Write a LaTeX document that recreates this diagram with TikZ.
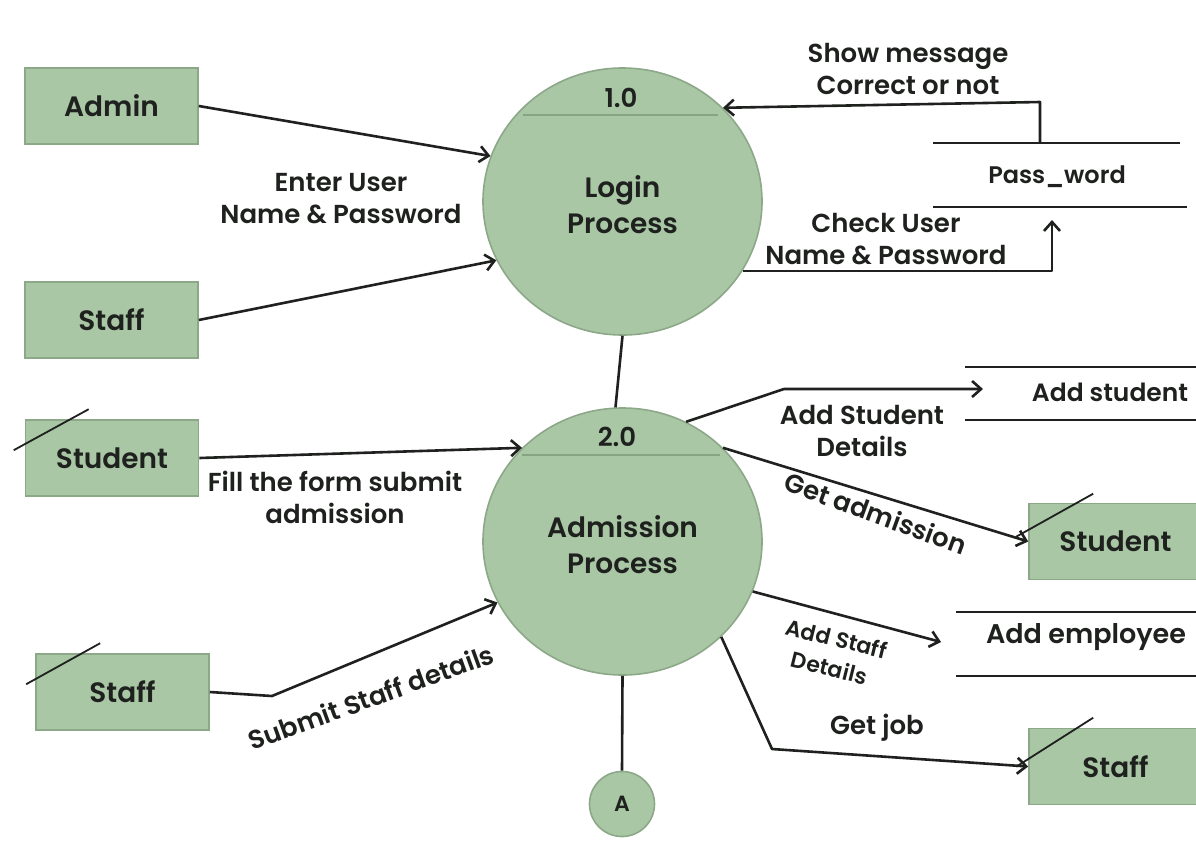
\documentclass[tikz,border=0pt]{standalone}
\usepackage{fontspec}
\setmainfont{Poppins}[BoldFont={* SemiBold}]
\usetikzlibrary{arrows.meta,shapes.geometric}
\definecolor{sage}{HTML}{A9C7A5}
\definecolor{sageline}{HTML}{8CA889}
\definecolor{chordc}{HTML}{86A383}
\definecolor{ink}{HTML}{1E211E}
\begin{document}
\begin{tikzpicture}[x=1pt,y=-1pt,
  every node/.style={text=ink},
  entity/.style={draw=sageline, fill=sage, line width=1.6pt, minimum width=173pt,
    minimum height=76pt, inner sep=0pt, font=\bfseries\fontsize{28}{30}\selectfont},
  proc/.style={ellipse, draw=sageline, fill=sage, line width=1.6pt, minimum width=279pt,
    minimum height=267pt, inner sep=0pt, align=center,
    font=\bfseries\fontsize{28}{36}\selectfont},
  conn/.style={circle, draw=sageline, fill=sage, line width=1.6pt, minimum size=65pt,
    inner sep=0pt, font=\bfseries\fontsize{22}{24}\selectfont},
  num/.style={font=\bfseries\fontsize{26}{28}\selectfont},
  lbl/.style={align=center, inner sep=0pt, font=\bfseries\fontsize{26}{32}\selectfont},
  slbl/.style={align=center, inner sep=0pt, font=\bfseries\fontsize{22}{30}\selectfont},
  storetxt/.style={inner sep=0pt, font=\bfseries\fontsize{27}{28}\selectfont},
  storeline/.style={draw=ink, line width=2.6pt},
  chord/.style={draw=chordc, line width=2.6pt},
  flow/.style={draw=ink, line width=2.6pt, line join=round,
    -{Straight Barb[length=9pt,width=16pt,line width=2.6pt]}},
  plain/.style={draw=ink, line width=2.6pt},
  dupl/.style={draw=ink, line width=1.8pt}
]
\useasboundingbox[fill=white] (0,0) rectangle (1196,844);

% processes
\node[proc] (login) at (622.5,201.5) {};
\node[proc] (adm) at (622.5,541.5) {};
\draw[chord] (523,115) -- (718,115);
\draw[chord] (522,455) -- (720,455);
\node[num] (n1) at (621,98) {1.0};
\node[num] (n2) at (617,437) {2.0};
\node[proc, draw=none, fill=none, minimum size=0pt] (logint) at (622.5,205) {Login\\Process};
\node[proc, draw=none, fill=none, minimum size=0pt] (admt) at (622.5,544.5) {Admission\\Process};
\node[conn] (A) at (622,804) {A};

% entities
\node[entity] (admin) at (111.5,106) {Admin};
\node[entity] (staffL1) at (111.5,320) {Staff};
\node[entity] (stuL) at (112,458) {Student};
\node[entity] (staffL2) at (122.5,692) {Staff};
\node[entity] (stuR) at (1115.5,541.5) {Student};
\node[entity] (staffR) at (1115.5,766.5) {Staff};

% duplicate marks
\draw[dupl] (stuL.north west) ++(-11,31) -- ++(75,-41);
\draw[dupl] (staffL2.north west) ++(-9,31) -- ++(74,-41);
\draw[dupl] (stuR.north west) ++(-12,34) -- ++(77,-43);
\draw[dupl] (staffR.north west) ++(-12,39) -- ++(77,-49);

% data stores
\draw[storeline] (933,143) -- (1180,143);
\draw[storeline] (933,207) -- (1187,207);
\node[storetxt, font=\bfseries\fontsize{24}{28}\selectfont] (pw) at (1057,177) {Pass\_word};
\draw[storeline] (965,367) -- (1210,367);
\draw[storeline] (965,420) -- (1210,420);
\node[storetxt, font=\bfseries\fontsize{25}{28}\selectfont] (as) at (1110,392) {Add student};
\draw[storeline] (956,612) -- (1210,612);
\draw[storeline] (956,676) -- (1210,676);
\node[storetxt] (ae) at (1086,637) {Add employee};

\coordinate (pwTop) at (1040,143);
\coordinate (pwIn) at (1052,220);
\coordinate (asIn) at (983,389);
\coordinate (aeIn) at (941,642);

% flows
\draw[flow] (admin.east) -- (login.161);
\draw[flow] (staffL1.east) -- (login.205);
\draw[flow] (pwTop) -- (1040,102) -- (login.43);
\draw[flow] (login.-30) -| (pwIn);
\draw[plain] (login.-90) -- (adm.93);
\draw[flow] (stuL.east) -- (adm.137);
\draw[flow] (staffL2.east) -- (272,696) -- (adm.206);
\draw[flow] (adm.62) -- (784,389) -- (asIn);
\draw[flow] (adm.43) -- (stuR.west);
\draw[flow] (adm.-21) -- (aeIn);
\draw[flow] (adm.-44) -- (772,749) -- (staffR.west);
\draw[plain] (adm.-90) -- (A.north);

% labels
\node[lbl] (l1) at (341,199) {Enter User\\Name \& Password};
\node[lbl] (l2) at (908,68.5) {Show message\\Correct or not};
\node[lbl] (l3) at (886,239) {Check User\\Name \& Password};
\node[lbl] (l4) at (335,497.5) {Fill the form submit\\admission};
\node[lbl, rotate=20] (l5) at (371,697) {Submit Staff details};
\node[lbl] (l6) at (862,431) {Add Student\\Details};
\node[lbl, rotate=-20] (l7) at (876,513) {Get admission};
\node[slbl, rotate=-14] (l8) at (833,653) {Add Staff\\Details};
\node[lbl] (l9) at (877,728) {Get job};
\end{tikzpicture}
\end{document}
